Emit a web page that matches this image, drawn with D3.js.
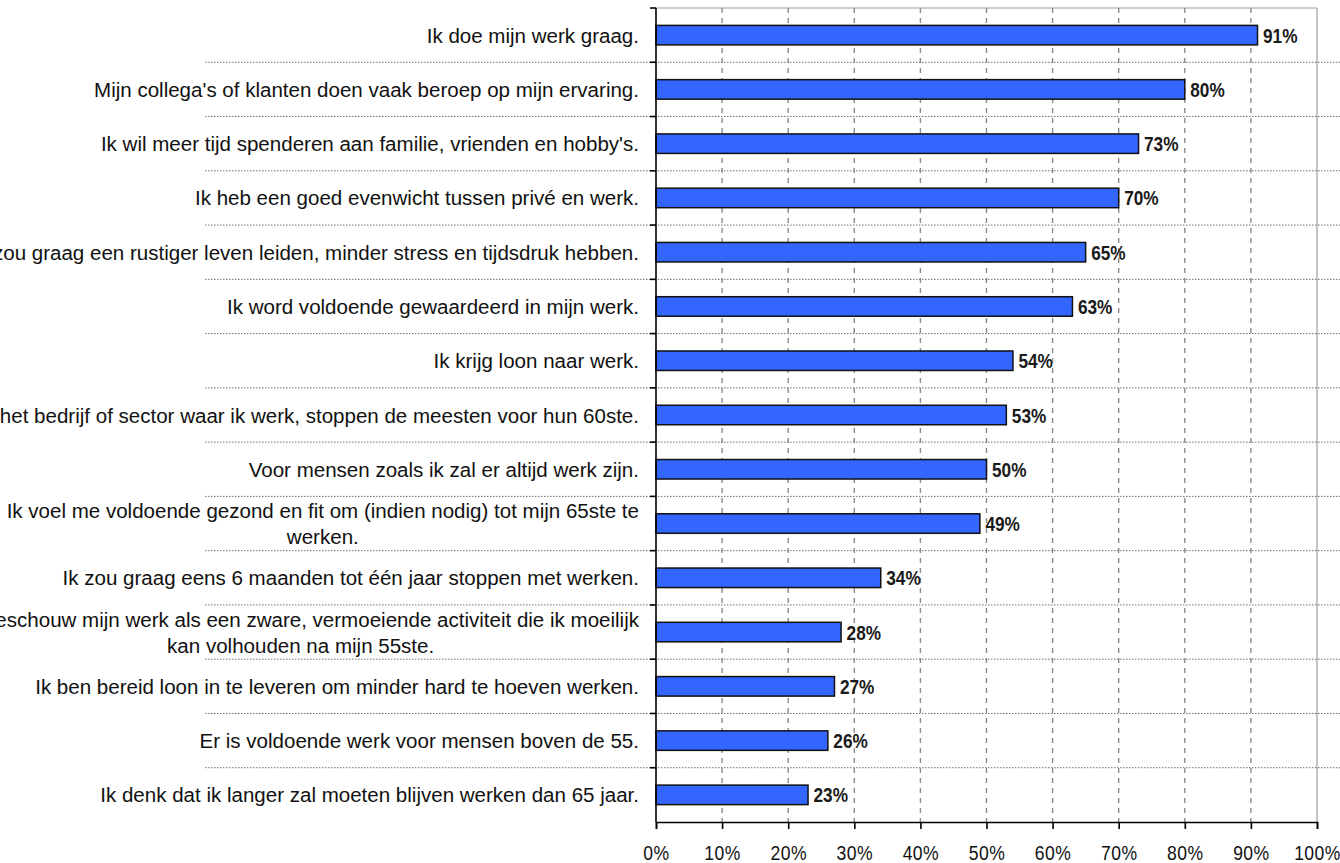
<!DOCTYPE html>
<html>
<head>
<meta charset="utf-8">
<script src="https://cdn.jsdelivr.net/npm/d3@7"></script>
<style>
  html, body { margin: 0; padding: 0; background: #fff; }
  svg { display: block; }
</style>
</head>
<body>
<svg id="chart" width="1340" height="863"></svg>
<script>
// ---- data ----
const categories = [
  "Ik doe mijn werk graag.",
  "Mijn collega's of klanten doen vaak beroep op mijn ervaring.",
  "Ik wil meer tijd spenderen aan familie, vrienden en hobby's.",
  "Ik heb een goed evenwicht tussen privé en werk.",
  "Ik zou graag een rustiger leven leiden, minder stress en tijdsdruk hebben.",
  "Ik word voldoende gewaardeerd in mijn werk.",
  "Ik krijg loon naar werk.",
  "In het bedrijf of sector waar ik werk, stoppen de meesten voor hun 60ste.",
  "Voor mensen zoals ik zal er altijd werk zijn.",
  "Ik voel me voldoende gezond en fit om (indien nodig) tot mijn 65ste te\nwerken.",
  "Ik zou graag eens 6 maanden tot één jaar stoppen met werken.",
  "Ik beschouw mijn werk als een zware, vermoeiende activiteit die ik moeilijk\nkan volhouden na mijn 55ste.",
  "Ik ben bereid loon in te leveren om minder hard te hoeven werken.",
  "Er is voldoende werk voor mensen boven de 55.",
  "Ik denk dat ik langer zal moeten blijven werken dan 65 jaar."
];
const values = [0.91, 0.80, 0.73, 0.70, 0.65, 0.63, 0.54, 0.53, 0.50, 0.49, 0.34, 0.28, 0.27, 0.26, 0.23];
const xTicks = [0, 0.1, 0.2, 0.3, 0.4, 0.5, 0.6, 0.7, 0.8, 0.9, 1.0];

// ---- layout ----
const svg = d3.select("#chart");
const plot = { left: 656, right: 1317, top: 8, bottom: 822 };
const FONT = "'Liberation Sans', Arial, sans-serif";

const x = d3.scaleLinear().domain([0, 1]).range([plot.left, plot.right]);
const y = d3.scaleBand().domain(categories).range([plot.top, plot.bottom]).padding(0);
const step = y.step();
const barH = 19.5;

// plot frame (top & right, gray)
svg.append("line").attr("x1", plot.left).attr("x2", plot.right)
  .attr("y1", plot.top).attr("y2", plot.top)
  .attr("stroke", "#a0a0a0").attr("stroke-width", 1.2);
svg.append("line").attr("x1", plot.right).attr("x2", plot.right)
  .attr("y1", plot.top).attr("y2", plot.bottom)
  .attr("stroke", "#a0a0a0").attr("stroke-width", 1.2);

// vertical dashed gridlines
svg.append("g").selectAll("line")
  .data(xTicks.filter(d => d > 0 && d < 1))
  .join("line")
  .attr("x1", d => x(d)).attr("x2", d => x(d))
  .attr("y1", plot.top).attr("y2", plot.bottom)
  .attr("stroke", "#8c8c8c").attr("stroke-width", 1.4)
  .attr("stroke-dasharray", "5,5");

// horizontal dotted separators between categories
const bounds = d3.range(1, categories.length).map(i => plot.top + i * step);
svg.append("g").selectAll("line")
  .data(bounds)
  .join("line")
  .attr("x1", 205).attr("x2", 1340)
  .attr("y1", d => d).attr("y2", d => d)
  .attr("stroke", "#6e6e6e").attr("stroke-width", 1)
  .attr("stroke-dasharray", "1.5,1.5");

// bars
svg.append("g").selectAll("rect")
  .data(categories)
  .join("rect")
  .attr("x", x(0))
  .attr("y", d => y(d) + step / 2 - barH / 2)
  .attr("width", (d, i) => x(values[i]) - x(0))
  .attr("height", barH)
  .attr("fill", "#3366ff")
  .attr("stroke", "#111")
  .attr("stroke-width", 1.5);

// value labels
svg.append("g").selectAll("g")
  .data(categories)
  .join("g")
  .attr("transform", (d, i) => `translate(${x(values[i]) + 5.5},${y(d) + step / 2 + 7.5}) scale(0.82,1)`)
  .append("text")
  .attr("font-family", FONT)
  .attr("font-size", 21)
  .attr("font-weight", "bold")
  .attr("fill", "#1a1a1a")
  .text((d, i) => d3.format(".0%")(values[i]));

// category labels
const sxL = 0.978;
const labelRight = 639;
const catG = svg.append("g");
categories.forEach(cat => {
  const lines = cat.split("\n");
  const cy = y(cat) + step / 2;
  const fs = 21;
  if (lines.length === 1) {
    catG.append("g")
      .attr("transform", `translate(${labelRight},${cy + 7.5}) scale(${sxL},1)`)
      .append("text")
      .attr("font-family", FONT).attr("font-size", fs).attr("fill", "#111")
      .attr("text-anchor", "end")
      .text(lines[0]);
  } else {
    const g1 = catG.append("g")
      .attr("transform", `translate(${labelRight},${cy - 13 + 7.5}) scale(${sxL},1)`);
    const t1 = g1.append("text")
      .attr("font-family", FONT).attr("font-size", fs).attr("fill", "#111")
      .attr("text-anchor", "end")
      .text(lines[0]);
    const w1 = t1.node().getComputedTextLength() * sxL;
    catG.append("g")
      .attr("transform", `translate(${labelRight - w1 / 2},${cy + 13 + 7.5}) scale(${sxL},1)`)
      .append("text")
      .attr("font-family", FONT).attr("font-size", fs).attr("fill", "#111")
      .attr("text-anchor", "middle")
      .text(lines[1]);
  }
});

// y axis line and boundary ticks
const yAxisG = svg.append("g");
yAxisG.append("line")
  .attr("x1", plot.left).attr("x2", plot.left)
  .attr("y1", plot.top).attr("y2", plot.bottom)
  .attr("stroke", "#000").attr("stroke-width", 1.6);
yAxisG.selectAll("line.tick")
  .data(d3.range(0, categories.length).map(i => plot.top + i * step))
  .join("line")
  .attr("class", "tick")
  .attr("x1", plot.left - 6).attr("x2", plot.left)
  .attr("y1", d => d).attr("y2", d => d)
  .attr("stroke", "#000").attr("stroke-width", 1.6);

// x axis
const xAxis = d3.axisBottom(x)
  .tickValues(xTicks)
  .tickFormat(d3.format(".0%"))
  .tickSize(7)
  .tickPadding(0);
const xg = svg.append("g")
  .attr("transform", `translate(0,${plot.bottom})`)
  .call(xAxis);
xg.select(".domain").attr("stroke", "#000").attr("stroke-width", 1.6);
xg.selectAll(".tick line").attr("stroke", "#000").attr("stroke-width", 1.6);
xg.selectAll(".tick text").remove();
xg.selectAll(".tick").append("g")
  .attr("transform", "translate(0,38) scale(0.9,1)")
  .append("text")
  .attr("font-family", FONT)
  .attr("font-size", 19.5)
  .attr("fill", "#111")
  .attr("text-anchor", "middle")
  .attr("letter-spacing", 0.5)
  .text(d => d3.format(".0%")(d));
</script>
</body>
</html>
